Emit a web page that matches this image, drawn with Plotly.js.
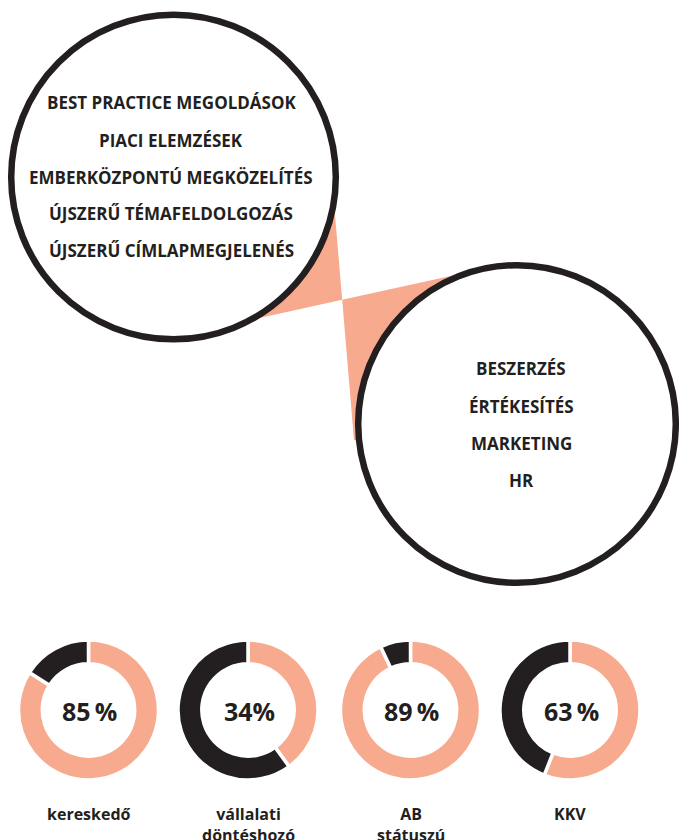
<!DOCTYPE html>
<html>
<head>
<meta charset="utf-8">
<script src="https://cdn.plot.ly/plotly-3.0.1.min.js"></script>
<style>html,body{margin:0;padding:0;background:#fff;}#chart{width:679px;height:840px;}</style>
</head>
<body>
<div id="chart"></div>
<script>
// ---- data ----
const leftItems = ['BEST PRACTICE MEGOLDÁSOK', 'PIACI ELEMZÉSEK', 'EMBERKÖZPONTÚ MEGKÖZELÍTÉS', 'ÚJSZERŰ TÉMAFELDOLGOZÁS', 'ÚJSZERŰ CÍMLAPMEGJELENÉS'];
const rightItems = ['BESZERZÉS', 'ÉRTÉKESÍTÉS', 'MARKETING', 'HR'];
const donutCategories = ['kereskedő', 'vállalati<br>döntéshozó', 'AB<br>státuszú', 'KKV'];
const donutPctLabels = ['85\u2009%', '34%', '89\u2009%', '63\u2009%'];
const donutShares = [84, 40, 93, 56];   // share of the salmon arc as drawn
const sliceNames = ['igen', 'nem'];

// ---- styles ----
const SALMON = '#F7AA8D';
const DARK = '#231F20';
const FONT = 'Open Sans, Noto Sans, sans-serif';
const W = 679, H = 840;

// geometry (page pixel coordinates used as axis units)
const leftC = {x: 173.5, y: 177, r: 162.3};
const rightC = {x: 517, y: 424, r: 158.8};
const donutCx = [88.5, 248, 410.5, 570];
const donutCy = 710;
const donutR = 70;

function lineA(y) { return 335 + 0.0844 * (y - 215); }
function lineB(x) { return 318.3 - 0.220 * (x - 258.3); }
const apexX = 342.2, apexY = lineB(342.2);

const shapes = [];
// bow-tie connector
shapes.push({type: 'path', xref: 'x', yref: 'y', line: {width: 0}, fillcolor: SALMON,
  path: `M ${apexX},${apexY} L ${lineA(177)},177 L ${leftC.x},${leftC.y} L 220,${lineB(220)} Z`});
shapes.push({type: 'path', xref: 'x', yref: 'y', line: {width: 0}, fillcolor: SALMON,
  path: `M ${apexX},${apexY} L 470,${lineB(470)} L ${rightC.x},${rightC.y} L 372,441 L ${lineA(440)},440 Z`});
// big circles
[leftC, rightC].forEach(c => shapes.push({type: 'circle', xref: 'x', yref: 'y',
  x0: c.x - c.r, x1: c.x + c.r, y0: c.y - c.r, y1: c.y + c.r,
  line: {color: DARK, width: 6.5}, fillcolor: '#ffffff'}));

const annotations = [];
const leftY = [102, 140, 177, 213.5, 250];
leftItems.forEach((t, i) => annotations.push({x: 171, y: leftY[i], xref: 'x', yref: 'y', text: t, showarrow: false,
  font: {family: FONT, size: 17, weight: 700, color: DARK}, xanchor: 'center', yanchor: 'middle'}));
const rightY = [368, 406, 443, 480];
rightItems.forEach((t, i) => annotations.push({x: 521, y: rightY[i], xref: 'x', yref: 'y', text: t, showarrow: false,
  font: {family: FONT, size: 17, weight: 700, color: DARK}, xanchor: 'center', yanchor: 'middle'}));

const traces = [];
donutShares.forEach((s, i) => {
  const cx = donutCx[i];
  traces.push({type: 'pie', values: [s, 100 - s], labels: sliceNames,
    marker: {colors: [SALMON, DARK], line: {color: '#ffffff', width: 3.5}},
    hole: 0.66, sort: false, direction: 'clockwise', rotation: 0,
    textinfo: 'none', hoverinfo: 'none', showlegend: false,
    domain: {x: [(cx - donutR) / W, (cx + donutR) / W], y: [(H - donutCy - donutR) / H, (H - donutCy + donutR) / H]}});
  annotations.push({x: cx + 1, y: donutCy + 1, xref: 'x', yref: 'y', text: donutPctLabels[i], showarrow: false,
    font: {family: FONT, size: 25, weight: 700, color: DARK}, xanchor: 'center', yanchor: 'middle'});
  annotations.push({x: cx, y: 801, xref: 'x', yref: 'y', text: donutCategories[i], showarrow: false,
    font: {family: FONT, size: 16, weight: 700, color: DARK}, xanchor: 'center', yanchor: 'top', align: 'center'});
});

const layout = {
  width: W, height: H, margin: {l: 0, r: 0, t: 0, b: 0},
  paper_bgcolor: '#ffffff', plot_bgcolor: '#ffffff',
  xaxis: {range: [0, W], visible: false, fixedrange: true},
  yaxis: {range: [H, 0], visible: false, fixedrange: true},
  shapes: shapes, annotations: annotations
};
Plotly.newPlot('chart', traces, layout, {staticPlot: true, displayModeBar: false});
</script>
</body>
</html>
